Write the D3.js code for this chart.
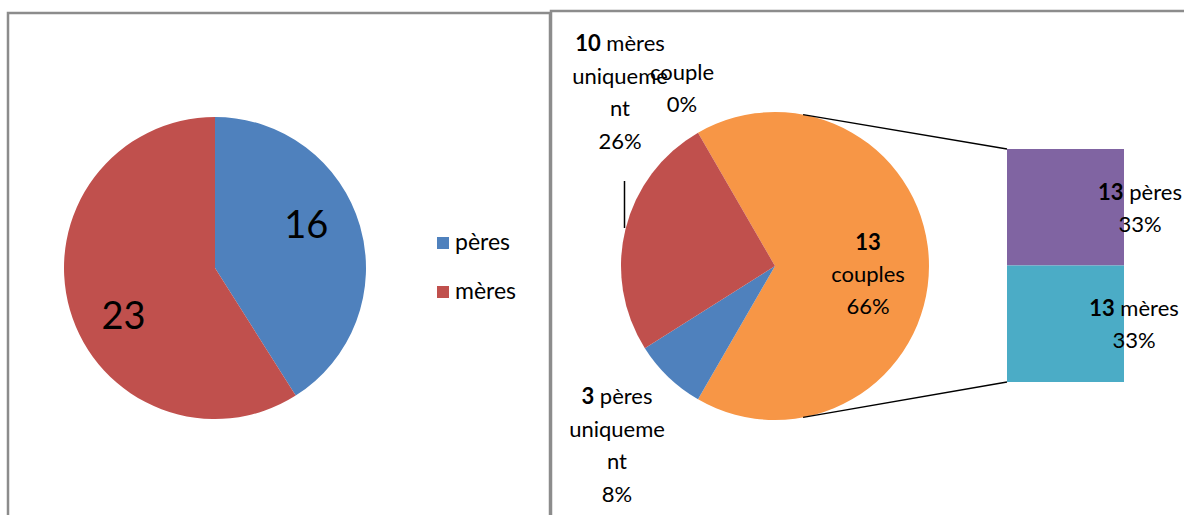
<!DOCTYPE html>
<meta charset="utf-8">
<style>
  body { margin: 0; background: #fff; }
  text { font-family: Lato, "Noto Sans", sans-serif; fill: #000; }
</style>
<body>
<script src="https://cdn.jsdelivr.net/npm/d3@7"></script>
<script>

    var width = 1184,
        height = 515;

    // graphique de gauche
    var parents = ["pères", "mères"];
    var parentValues = [16, 23];
    var parentColors = ["#4F81BD", "#C0504D"];
    var parentNudge = [-17, 22];   // décalage vertical des étiquettes

    // graphique de droite (secteurs + barre)
    var pieLabels = [
        ["13", " couples"],
        ["3", " pères", "uniqueme", "nt"],
        ["10", " mères", "uniqueme", "nt"]
    ];
    var pieValues = [26, 3, 10];
    var pieColors = ["#F79646", "#4F81BD", "#C0504D"];
    var barNames = ["pères", "mères"];
    var barValues = [13, 13];
    var barColors = ["#8064A2", "#4BACC6"];
    var total = d3.sum(pieValues);

    var svg = d3.select("body").append("svg")
            .attr("width", width)
            .attr("height", height);

    // cadres
    svg.append("rect").attr("x", 8).attr("y", 13).attr("width", 542).attr("height", 540)
            .attr("fill", "none").attr("stroke", "#8c8c8c").attr("stroke-width", 2.5);
    svg.append("rect").attr("x", 551).attr("y", 11).attr("width", 700).attr("height", 540)
            .attr("fill", "none").attr("stroke", "#8c8c8c").attr("stroke-width", 2.5);

    //--- camembert de gauche
    var r1 = 151;
    var g1 = svg.append("g").attr("transform", "translate(215,268)");
    var pie1 = d3.pie().sort(null);
    var arc1 = d3.arc().innerRadius(0).outerRadius(r1);
    var arcs1 = pie1(parentValues);

    g1.selectAll("path").data(arcs1).enter().append("path")
            .attr("d", arc1)
            .attr("fill", function(d, i) { return parentColors[i]; });

    var labelArc1 = d3.arc().innerRadius(r1 * 0.63).outerRadius(r1 * 0.63);
    g1.selectAll("text.val").data(arcs1).enter().append("text")
            .attr("class", "val")
            .attr("transform", function(d, i) {
                var c = labelArc1.centroid(d);
                return "translate(" + c[0] + "," + (c[1] + 13 + parentNudge[i]) + ")";
            })
            .attr("text-anchor", "middle")
            .style("font-size", "38px")
            .text(function(d) { return d.data; });

    // légende
    var legend = svg.append("g").attr("transform", "translate(437,237)");
    var items = legend.selectAll("g").data(parents).enter().append("g")
            .attr("transform", function(d, i) { return "translate(0," + (i * 49) + ")"; });
    items.append("rect").attr("width", 12).attr("height", 12)
            .attr("fill", function(d, i) { return parentColors[i]; });
    items.append("text").attr("x", 18).attr("y", 13)
            .style("font-size", "23px")
            .text(function(d) { return d; });

    //--- secteurs de droite
    var r2 = 154, cx2 = 775, cy2 = 266;
    var g2 = svg.append("g").attr("transform", "translate(" + cx2 + "," + cy2 + ")");
    var start = -Math.PI / 6;
    var pie2 = d3.pie().sort(null).startAngle(start).endAngle(start + 2 * Math.PI);
    var arc2 = d3.arc().innerRadius(0).outerRadius(r2);
    var arcs2 = pie2(pieValues);

    g2.selectAll("path").data(arcs2).enter().append("path")
            .attr("d", arc2)
            .attr("fill", function(d, i) { return pieColors[i]; });

    // barre empilée
    var barX = 1007, barW = 117;
    var y = d3.scaleLinear().domain([0, d3.sum(barValues)]).range([149, 382]);
    var stack = d3.cumsum(barValues);
    svg.selectAll("rect.bar").data(barValues).enter().append("rect")
            .attr("class", "bar")
            .attr("x", barX)
            .attr("y", function(d, i) { return y(stack[i] - d); })
            .attr("width", barW)
            .attr("height", function(d) { return y(d) - y(0); })
            .attr("fill", function(d, i) { return barColors[i]; });

    // lignes de liaison
    var a = 10.5 * Math.PI / 180;
    [[a, y(0)], [Math.PI - a, y(d3.sum(barValues))]].forEach(function(p) {
        svg.append("line")
                .attr("x1", cx2 + r2 * Math.sin(p[0]))
                .attr("y1", cy2 - r2 * Math.cos(p[0]))
                .attr("x2", barX)
                .attr("y2", p[1])
                .attr("stroke", "#000").attr("stroke-width", 1.3);
    });
    // petit trait de rappel
    svg.append("line").attr("x1", 624.5).attr("y1", 181).attr("x2", 624.5).attr("y2", 228)
            .attr("stroke", "#000").attr("stroke-width", 1.5);

    // étiquettes en plusieurs lignes
    function multiLabel(x, yTop, lines, lh) {
        var t = svg.append("text").attr("text-anchor", "middle").style("font-size", "22px");
        lines.forEach(function(l, i) {
            var ts = t.append("tspan").attr("x", x).attr("y", yTop + i * lh);
            if (Array.isArray(l)) {
                ts.append("tspan").style("font-weight", "bold").text(l[0]);
                ts.append("tspan").text(l[1]);
            } else {
                ts.text(l);
            }
        });
    }

    // pourcentages arrondis, le premier secteur complète à 100 %
    var pcts = pieValues.map(function(v) { return Math.round(v / total * 100); });
    pcts[0] = 100 - d3.sum(pcts.slice(1));

    multiLabel(868, 250, [[pieLabels[0][0], ""], pieLabels[0][1].trim(), pcts[0] + "%"], 32);
    multiLabel(617, 404, [[pieLabels[1][0], pieLabels[1][1]], pieLabels[1][2], pieLabels[1][3], pcts[1] + "%"], 32.5);
    multiLabel(620, 51, [[pieLabels[2][0], pieLabels[2][1]], pieLabels[2][2], pieLabels[2][3], pcts[2] + "%"], 32.5);
    multiLabel(682, 80, ["couple", "0%"], 32);

    var barPct = barValues.map(function(v) { return Math.round(v / total * 100) + "%"; });
    multiLabel(1140, 200, [[String(barValues[0]), " " + barNames[0]], barPct[0]], 32);
    multiLabel(1134, 316, [[String(barValues[1]), " " + barNames[1]], barPct[1]], 32);

</script>
